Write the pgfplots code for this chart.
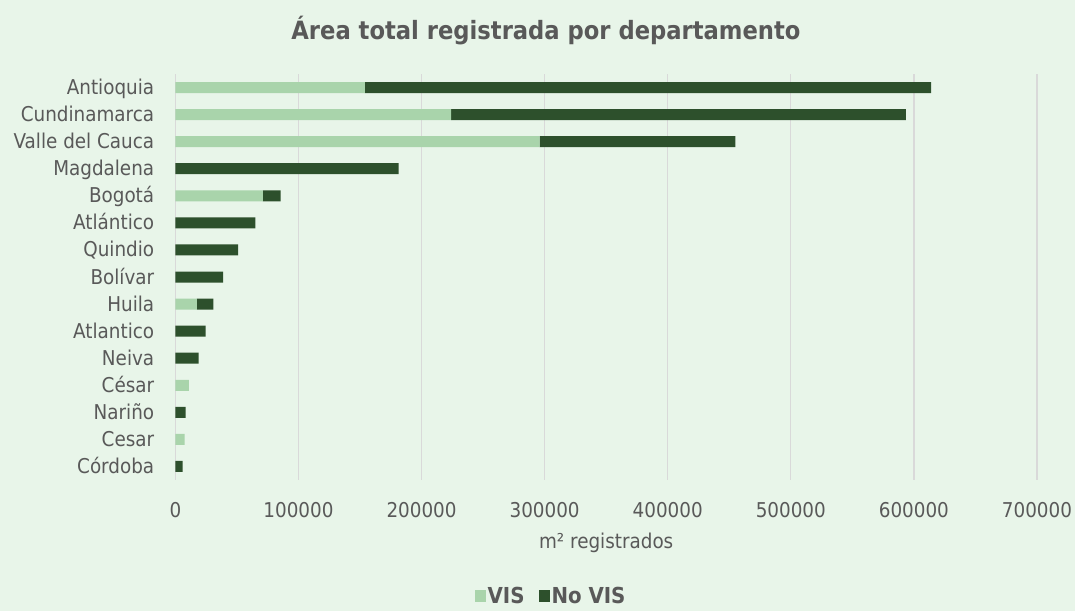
\documentclass[border=0pt]{standalone}
\usepackage{pgfplots}
\pgfplotsset{compat=1.18}
\usepackage{fontspec}
\setmainfont{DejaVu Sans Condensed}
\definecolor{bgc}{RGB}{232,245,233}
\definecolor{visc}{RGB}{169,212,171}
\definecolor{novisc}{RGB}{45,80,44}
\definecolor{gridc}{RGB}{217,217,217}
\definecolor{txt}{RGB}{89,89,89}
\begin{document}
\begin{tikzpicture}[x=1pt,y=1pt]
\path[use as bounding box, fill=bgc] (0,0) rectangle (1075,611);
\node[font=\fontsize{25.2}{30}\selectfont\bfseries, text=txt] at (546,580) {Área total registrada por departamento};
\begin{axis}[
  at={(175.4pt,131pt)}, anchor=south west,
  scale only axis, width=861.6pt, height=406pt,
  xbar stacked, bar width=11pt,
  xmin=0, xmax=700000, ymin=-0.5, ymax=14.5, y dir=reverse,
  ytick={0,...,14},
  yticklabels={Antioquia,Cundinamarca,Valle del Cauca,Magdalena,Bogotá,Atlántico,Quindio,Bolívar,Huila,Atlantico,Neiva,César,Nariño,Cesar,Córdoba},
  xtick={0,100000,200000,300000,400000,500000,600000,700000},
  scaled x ticks=false,
  xticklabel={\pgfmathprintnumber[assume math mode=true,fixed,1000 sep={},precision=0]{\tick}},
  axis line style={draw=none},
  major tick length=0pt,
  xmajorgrids, grid style={draw=gridc, line width=1.2pt},
  font=\fontsize{20.4}{24}\selectfont,
  tick label style={text=txt},
  xticklabel style={inner sep=0pt, anchor=north, yshift=-22pt},
  yticklabel style={inner sep=0pt, anchor=base east, xshift=-21pt, yshift=-7pt},
  xlabel={m² registrados},
  xlabel style={at={(rel axis cs:0.5,-0.155)}, anchor=center, text=txt},
  legend style={at={(rel axis cs:0.436,-0.285)}, anchor=center, draw=none, fill=none,
    legend columns=2, font=\fontsize{22}{26}\selectfont\bfseries, text=txt,
    nodes={inner sep=2pt},
    /tikz/every even column/.append style={column sep=12pt}},
  legend image code/.code={\fill[#1] (2pt,-6pt) rectangle (13pt,6pt);},
]
\addplot[fill=visc, draw=none] coordinates {
(154000,0) (224000,1) (296000,2) (0,3) (71000,4) (0,5) (0,6) (0,7) (17500,8) (0,9) (0,10) (11000,11) (0,12) (7500,13) (0,14)};
\addlegendentry{VIS}
\addplot[fill=novisc, draw=none] coordinates {
(460000,0) (369500,1) (159000,2) (181300,3) (14500,4) (65000,5) (51000,6) (38700,7) (13400,8) (24500,9) (18900,10) (0,11) (8300,12) (0,13) (5800,14)};
\addlegendentry{No VIS}
\end{axis}
\end{tikzpicture}
\end{document}
